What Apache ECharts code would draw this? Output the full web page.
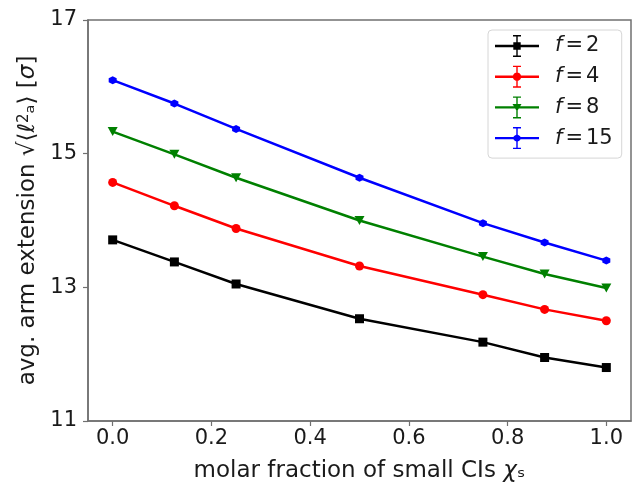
<!DOCTYPE html>
<html>
<head>
<meta charset="utf-8">
<script src="https://cdn.jsdelivr.net/npm/echarts@6/dist/echarts.min.js"></script>
<style>
html,body{margin:0;padding:0;background:#fff;}
#c{width:632px;height:483px;}
</style>
</head>
<body>
<div id="c"></div>
<script>
// ---- data ----
var xValues = [0, 0.125, 0.25, 0.5, 0.75, 0.875, 1.0];
var f2  = [13.71, 13.38, 13.05, 12.53, 12.18, 11.95, 11.80];
var f4  = [14.57, 14.22, 13.88, 13.32, 12.89, 12.67, 12.50];
var f8  = [15.33, 14.99, 14.64, 14.00, 13.46, 13.20, 12.99];
var f15 = [16.10, 15.75, 15.37, 14.64, 13.96, 13.67, 13.40];
var seriesNames = ['f = 2', 'f = 4', 'f = 8', 'f = 15'];
var xTicks = [0.0, 0.2, 0.4, 0.6, 0.8, 1.0];
var yTicks = [11, 13, 15, 17];

function pair(ys){ return xValues.map(function(x,i){ return [x, ys[i]]; }); }

function rect(x1,y1,x2,y2){ return 'M'+x1+' '+y1+'L'+x2+' '+y1+'L'+x2+' '+y2+'L'+x1+' '+y2+'Z'; }
function poly(cx,cy,r,n,rot){
  var s='';
  for(var i=0;i<n;i++){
    var a=rot+2*Math.PI*i/n;
    s+=(i===0?'M':'L')+(cx+r*Math.cos(a)).toFixed(2)+' '+(cy+r*Math.sin(a)).toFixed(2);
  }
  return s+'Z';
}
var base = rect(0,9.8,44,12.2) + rect(21.3,1,22.7,21) + rect(18,0,26,1.4) + rect(18,20.6,26,22);
var iconSquare = 'path://' + base + rect(18.3,7.3,25.7,14.7);
var iconCircle = 'path://' + base + poly(22,11,4.2,20,0);
var iconTri = 'path://' + base + 'M17.5 7.5L26.5 7.5L22 15Z';
var iconHex = 'path://' + base + poly(22,11,3.8,6,Math.PI/6);

var hexSym = 'path://' + poly(10,10,10,6,Math.PI/6);

var chart = echarts.init(document.getElementById('c'), null, {renderer:'canvas'});
var axisCol = '#707070';
var font = 'DejaVu Sans';
var fsTick = 21, fsName = 23, fsLeg = 21;
var txt = '#1a1a1a';
function rs(size, extra){ var o = {fontFamily: font, fontSize: size, color: txt}; for (var k in extra) o[k] = extra[k]; return o; }

var option = {
  animation: false,
  backgroundColor: '#fff',
  grid: {left: 88, top: 20, right: 1, bottom: 62, outerBoundsMode: 'none', containLabel: false,
         show: true, borderColor: axisCol, borderWidth: 1.5, backgroundColor: 'transparent'},
  xAxis: {
    type: 'value', min: -0.05, max: 1.05,
    name: '{n|molar fraction of small CIs }{i|χ}{n|ₛ}',
    nameLocation: 'middle', nameGap: 39,
    nameTextStyle: {fontFamily: font, fontSize: fsName, color: txt, rich: {n: rs(fsName), i: rs(fsName, {fontStyle: 'italic'})}},
    axisLine: {show: true, onZero: false, lineStyle: {color: axisCol, width: 1.5}},
    axisTick: {show: true, inside: false, length: 5, lineStyle: {color: axisCol, width: 1.2}, customValues: xTicks},
    axisLabel: {show: true, customValues: xTicks, formatter: function(v){ return v.toFixed(1); }, fontFamily: font, fontSize: fsTick, color: txt, margin: 7},
    splitLine: {show: false}
  },
  yAxis: {
    type: 'value', min: 11, max: 17, interval: 2,
    name: '{n|avg. arm extension √⟨ℓ}{s|2}{n|ₐ⟩ [}{i|σ}{n|]}',
    nameLocation: 'middle', nameGap: 41, nameRotate: 90,
    nameTextStyle: {fontFamily: font, fontSize: fsName, color: txt,
      rich: {n: rs(fsName), i: rs(fsName, {fontStyle: 'italic'}), s: rs(15, {verticalAlign: 'top'})}},
    axisLine: {show: true, onZero: false, lineStyle: {color: axisCol, width: 1.5}},
    axisTick: {show: true, inside: false, length: 5, lineStyle: {color: axisCol, width: 1.2}, customValues: yTicks},
    axisLabel: {show: true, customValues: yTicks, fontFamily: font, fontSize: fsTick, color: txt, margin: 11},
    splitLine: {show: false}
  },
  legend: {
    orient: 'vertical', left: 488, top: 30,
    backgroundColor: '#fff', borderColor: '#d6d6d6', borderWidth: 1, borderRadius: 4,
    padding: [5, 9, 9, 7], itemGap: 8.7, itemWidth: 44, itemHeight: 22,
    itemStyle: {borderWidth: 0},
    textStyle: {fontFamily: font, fontSize: fsLeg, color: txt, padding: [0,0,0,11],
      rich: {i: rs(fsLeg, {fontStyle: 'italic'}), e: rs(fsLeg, {padding: [0,3,0,3]}), n: rs(fsLeg)}},
    formatter: function(name){ return '{i|f}{e|=}{n|' + name.split('= ')[1] + '}'; },
    data: [
      {name: seriesNames[0], icon: iconSquare},
      {name: seriesNames[1], icon: iconCircle},
      {name: seriesNames[2], icon: iconTri},
      {name: seriesNames[3], icon: iconHex}
    ]
  },
  series: [
    {name: seriesNames[0], type: 'line', data: pair(f2), color: '#000000', symbol: 'rect', symbolSize: 9,
     lineStyle: {width: 2.5, color: '#000000'}, itemStyle: {color: '#000000'}},
    {name: seriesNames[1], type: 'line', data: pair(f4), color: '#ff0000', symbol: 'circle', symbolSize: 9,
     lineStyle: {width: 2.5, color: '#ff0000'}, itemStyle: {color: '#ff0000'}},
    {name: seriesNames[2], type: 'line', data: pair(f8), color: '#008000', symbol: 'triangle', symbolRotate: 180, symbolSize: [10, 9],
     lineStyle: {width: 2.5, color: '#008000'}, itemStyle: {color: '#008000'}},
    {name: seriesNames[3], type: 'line', data: pair(f15), color: '#0000ff', symbol: hexSym, symbolSize: 8,
     lineStyle: {width: 2.5, color: '#0000ff'}, itemStyle: {color: '#0000ff'}}
  ]
};
chart.setOption(option);
</script>
</body>
</html>
